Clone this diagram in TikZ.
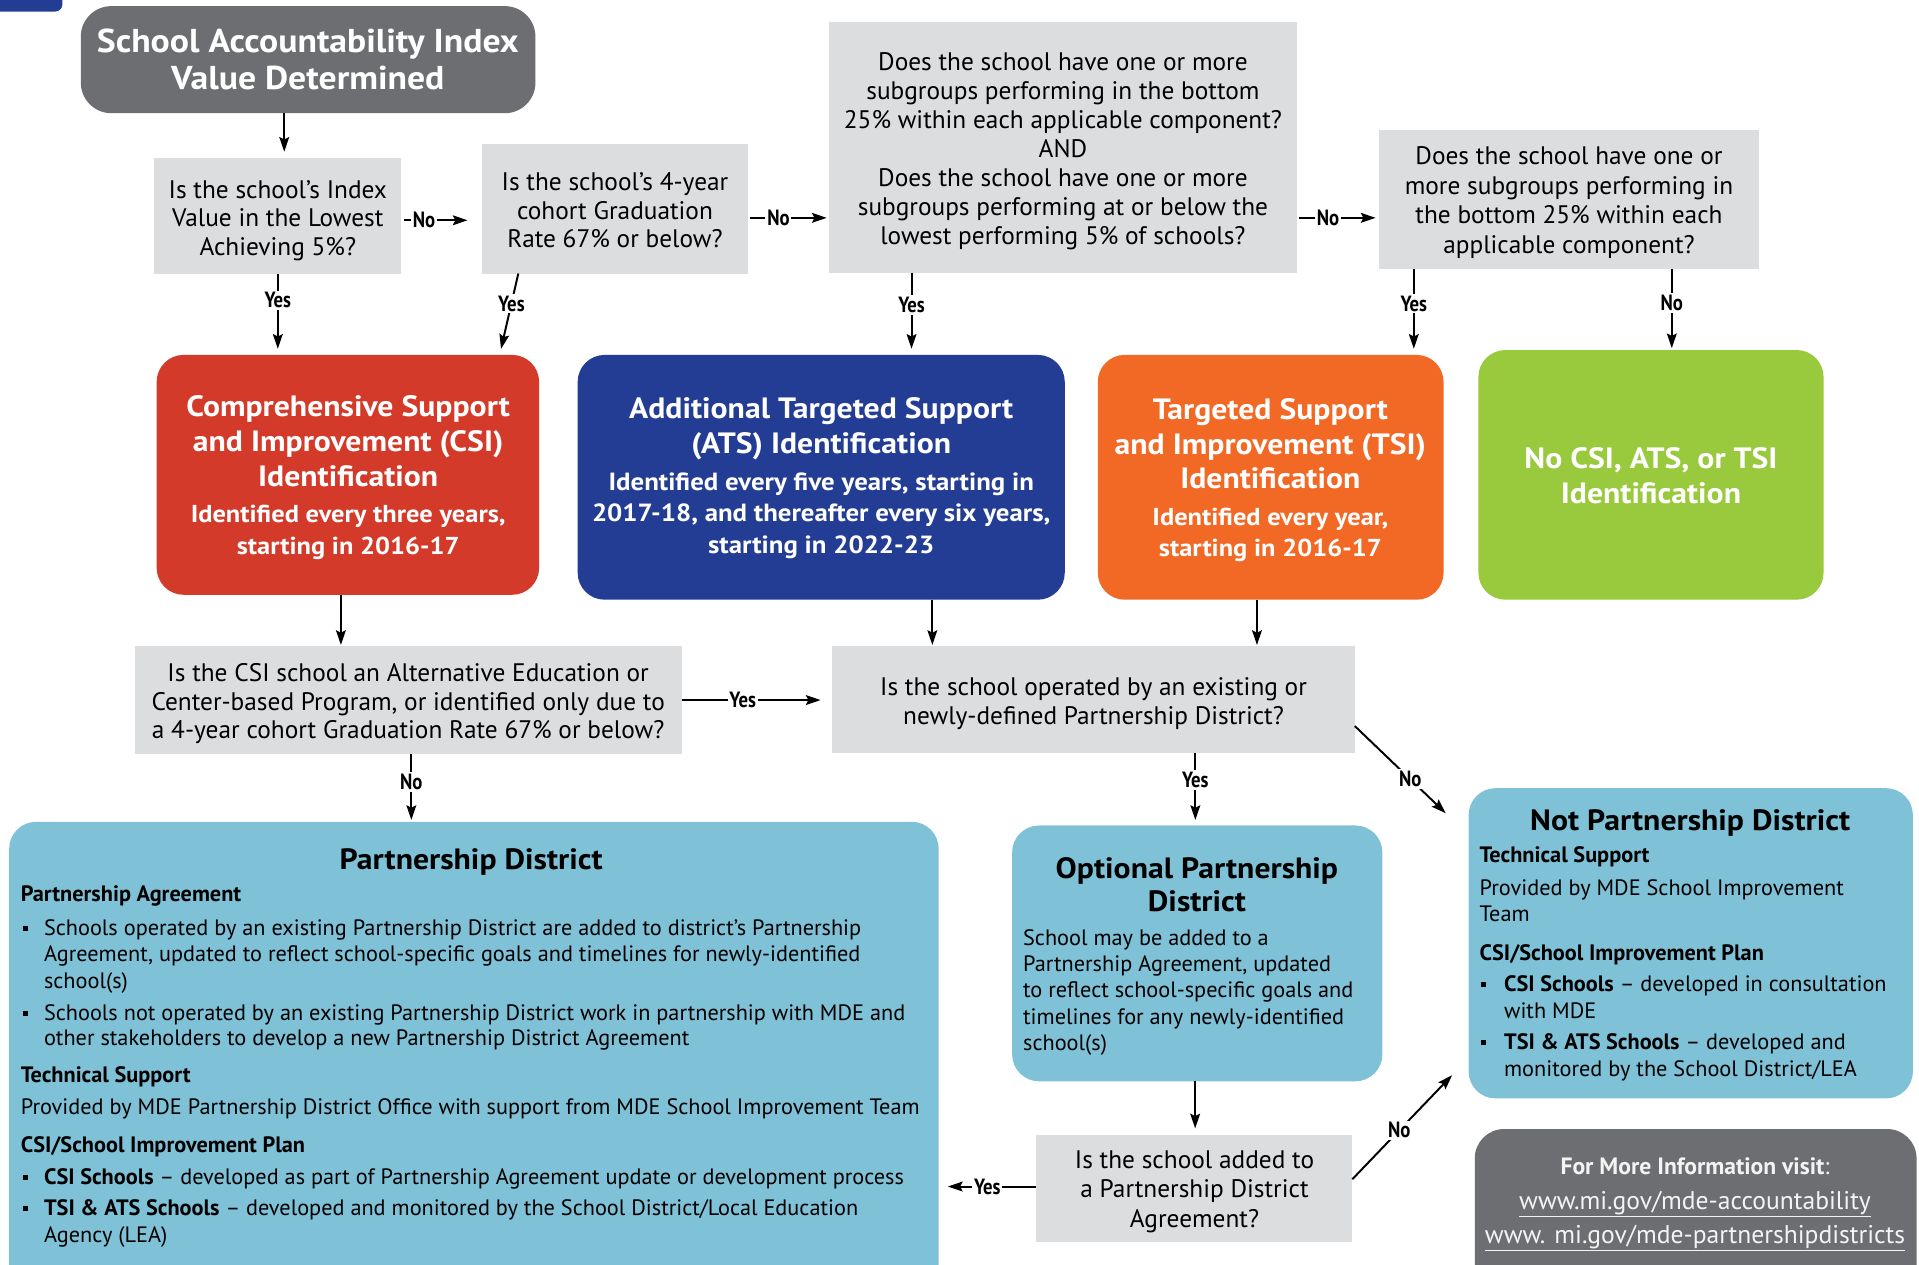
\documentclass[tikz,border=0pt]{standalone}
\usepackage{fontspec}
\setmainfont{PT Sans}
\newfontfamily\condfont{PT Sans}[FakeStretch=0.85]
\newfontfamily\widefont{PT Sans}[FakeStretch=1.08]
\usetikzlibrary{arrows.meta}
\definecolor{qgrey}{HTML}{DCDDDE}
\definecolor{dgrey}{HTML}{6D6E71}
\definecolor{redC}{HTML}{D33A29}
\definecolor{blueC}{HTML}{243D94}
\definecolor{orangeC}{HTML}{F26825}
\definecolor{greenC}{HTML}{99C93C}
\definecolor{lblue}{HTML}{7FC1D6}
\definecolor{infotext}{HTML}{F4F4F4}
\newcommand\mkbox[6]{\node[#1, minimum width=#5pt, minimum height=#6pt] (#2) at (#3,#4) {};}
\newcommand\bul{\makebox[19pt][l]{\hspace{1.5pt}\rule[3.5pt]{4pt}{4pt}}}
\newcommand\bulN{\makebox[20pt][l]{\hspace{1.5pt}\rule[3.5pt]{4pt}{4pt}}}
\newcommand\ind{\hspace*{19pt}}
\newcommand\indN{\hspace*{20pt}}
\begin{document}
\begin{tikzpicture}[x=1pt,y=-1pt,
  box/.style={inner sep=0pt, outer sep=0pt, anchor=north west},
  qbox/.style={box, fill=qgrey},
  rbox/.style={box, rounded corners=22pt},
  arr/.style={draw=black, line width=1.6pt, -{Stealth[length=12pt,width=8pt,inset=2pt]}},
  lab/.style={fill=white, inner sep=1.5pt, font=\condfont\bfseries\fontsize{18}{18}\selectfont},
  ctext/.style={anchor=base, inner sep=0pt, outer sep=0pt},
  ltext/.style={anchor=base west, inner sep=0pt, outer sep=0pt},
  qfont/.style={font=\fontsize{20.7}{#1}\selectfont},
  tfont/.style={font=\widefont\bfseries\fontsize{24}{#1}\selectfont},
  bfont/.style={font=\fontsize{18.2}{21.5}\selectfont},
]
\useasboundingbox (0,0) rectangle (1568,1033);
\fill[white] (0,0) rectangle (1568,1033);
\fill[blueC, rounded corners=6pt] (-20,-20) rectangle (51,9.5);

% ---------- boxes ----------
\mkbox{rbox, fill=dgrey, rounded corners=25pt}{top}{66}{5}{371.5}{87.5}
\mkbox{qbox}{q1}{126}{129}{202}{94.5}
\mkbox{qbox}{q2}{394}{117.5}{217}{106}
\mkbox{qbox}{q3}{677}{18}{383}{205}
\mkbox{qbox}{q4}{1127}{106}{310}{114}
\mkbox{rbox, fill=redC}{csi}{128}{290}{312.5}{196}
\mkbox{rbox, fill=blueC}{ats}{472}{290}{398}{200}
\mkbox{rbox, fill=orangeC}{tsi}{897}{290}{282.5}{200}
\mkbox{rbox, fill=greenC}{nid}{1208}{286}{282}{204}
\mkbox{qbox}{q5}{110}{528}{447}{88}
\mkbox{qbox}{q6}{680}{528}{427}{87.5}
\mkbox{rbox, fill=lblue}{pd}{7.5}{671.5}{759.5}{390}
\mkbox{rbox, fill=lblue}{opd}{827}{674.5}{302.5}{209}
\mkbox{qbox}{q7}{846.5}{927.5}{258.5}{87}
\mkbox{rbox, fill=lblue}{npd}{1200}{644}{363}{253.5}
\mkbox{rbox, fill=dgrey, rounded corners=24pt}{info}{1205}{922.5}{361}{140}

% ---------- texts ----------
\node[ctext, text=white, font=\widefont\bfseries\fontsize{27}{31}\selectfont] (topt) at (251.5,42.5)
  {\begin{tabular}[t]{@{}c@{}}School Accountability Index\\Value Determined\end{tabular}};
\node[ctext, qfont=23.2] (q1t) at (227,162)
  {\begin{tabular}[t]{@{}c@{}}Is the school’s Index\\Value in the Lowest\\Achieving 5\%?\end{tabular}};
\node[ctext, qfont=23.5] (q2t) at (502.5,155.5)
  {\begin{tabular}[t]{@{}c@{}}Is the school’s 4-year\\cohort Graduation\\Rate 67\% or below?\end{tabular}};
\node[ctext, qfont=23.8] (q3t) at (868.5,57.3)
  {\begin{tabular}[t]{@{}c@{}}Does the school have one or more\\subgroups performing in the bottom\\25\% within each applicable component?\\AND\\Does the school have one or more\\subgroups performing at or below the\\lowest performing 5\% of schools?\end{tabular}};
\node[ctext, qfont=24] (q4t) at (1282,134.8)
  {\begin{tabular}[t]{@{}c@{}}Does the school have one or\\more subgroups performing in\\the bottom 25\% within each\\applicable component?\end{tabular}};
\node[ctext, text=white, tfont=28.8] (csit) at (284.5,340)
  {\begin{tabular}[t]{@{}c@{}}Comprehensive Support\\and Improvement (CSI)\\Identification\\[0.6pt]
  \fontsize{20}{24}\selectfont Identified every three years,\\[-3.1pt]\fontsize{20}{24}\selectfont starting in 2016-17\end{tabular}};
\node[ctext, text=white, tfont=28.5] (atst) at (671,342)
  {\begin{tabular}[t]{@{}c@{}}Additional Targeted Support\\(ATS) Identification\\[1.5pt]
  \fontsize{20.3}{24}\selectfont Identified every five years, starting in\\[-2.75pt]\fontsize{20.3}{24}\selectfont 2017-18, and thereafter every six years,\\[-2.75pt]\fontsize{20.3}{24}\selectfont starting in 2022-23\end{tabular}};
\node[ctext, text=white, tfont=28] (tsit) at (1038,343)
  {\begin{tabular}[t]{@{}c@{}}Targeted Support\\and Improvement (TSI)\\Identification\\[2pt]
  \fontsize{20}{24}\selectfont Identified every year,\\[-2pt]\fontsize{20}{24}\selectfont starting in 2016-17\end{tabular}};
\node[ctext, text=white, tfont=28] (nidt) at (1349,383)
  {\begin{tabular}[t]{@{}c@{}}No CSI, ATS, or TSI\\Identification\end{tabular}};
\node[ctext, qfont=23.3] (q5t) at (333.5,557)
  {\begin{tabular}[t]{@{}c@{}}Is the CSI school an Alternative Education or\\Center-based Program, or identified only due to\\a 4-year cohort Graduation Rate 67\% or below?\end{tabular}};
\node[ctext, qfont=23.5] (q6t) at (893.5,568.5)
  {\begin{tabular}[t]{@{}c@{}}Is the school operated by an existing or\\newly-defined Partnership District?\end{tabular}};
\node[ctext, qfont=23.8] (q7t) at (976,955)
  {\begin{tabular}[t]{@{}c@{}}Is the school added to\\a Partnership District\\Agreement?\end{tabular}};

% Partnership District
\node[ctext, tfont=24] (pdt) at (385,710.5) {Partnership District};
\node[ltext, bfont] (pdb) at (17,737)
  {\begin{tabular}[t]{@{}l@{}}\textbf{Partnership Agreement}\\[5.5pt]
  \bul Schools operated by an existing Partnership District are added to district’s Partnership\\[0.5pt]
  \ind Agreement, updated to reflect school-specific goals and timelines for newly-identified\\
  \ind school(s)\\[4.5pt]
  \bul Schools not operated by an existing Partnership District work in partnership with MDE and\\[-0.5pt]
  \ind other stakeholders to develop a new Partnership District Agreement\\[8.5pt]
  \textbf{Technical Support}\\[4.5pt]
  Provided by MDE Partnership District Office with support from MDE School Improvement Team\\[9.5pt]
  \textbf{CSI/School Improvement Plan}\\[4.5pt]
  \bul\textbf{CSI Schools} – developed as part of Partnership Agreement update or development process\\[4pt]
  \bul\textbf{TSI \& ATS Schools} – developed and monitored by the School District/Local Education\\[0.5pt]
  \ind Agency (LEA)\end{tabular}};

% Optional Partnership District
\node[ctext, tfont=27.2] (opdt) at (978,717.7)
  {\begin{tabular}[t]{@{}c@{}}Optional Partnership\\District\end{tabular}};
\node[ltext, bfont] (opdb) at (836,772.3)
  {\begin{tabular}[t]{@{}l@{}}School may be added to a\\Partnership Agreement, updated\\to reflect school-specific goals and\\timelines for any newly-identified\\school(s)\end{tabular}};

% Not Partnership District
\node[ctext, tfont=24] (npdt) at (1381,678.5) {Not Partnership District};
\node[ltext, bfont] (npdb) at (1209,705)
  {\begin{tabular}[t]{@{}l@{}}\textbf{Technical Support}\\[5pt]
  Provided by MDE School Improvement\\[0.3pt]
  Team\\[10.2pt]
  \textbf{CSI/School Improvement Plan}\\[3.5pt]
  \bulN\textbf{CSI Schools} – developed in consultation\\[0.8pt]
  \indN with MDE\\[3.7pt]
  \bulN\textbf{TSI \& ATS Schools} – developed and\\[0.5pt]
  \indN monitored by the School District/LEA\end{tabular}};

% info
\node[ctext, text=infotext, font=\fontsize{20.9}{28}\selectfont] (infot) at (1385,960)
  {\begin{tabular}[t]{@{}c@{}}{\fontsize{19.3}{24}\selectfont\textbf{For More Information visit}:}\\
  \underline{www.mi.gov/mde-accountability}\\
  \underline{www. mi.gov/mde-partnershipdistricts}\end{tabular}};

% ---------- connectors ----------
\coordinate (rowA) at (0,180);
\coordinate (rowB) at (0,178);
\coordinate (c0) at ([xshift=-19.5pt]top.south);
\draw[arr, shorten >=5pt] (c0) -- (c0 |- q1.north);

\draw[arr, shorten <=2pt, shorten >=12pt] (q1.east |- rowA) -- node[lab, pos=0.28] (l1) {No} (q2.west |- rowA);
\draw[arr, shorten <=1.5pt, shorten >=1.5pt] (q2.east |- rowB) -- node[lab, pos=0.38] (l2) {No} (q3.west |- rowB);
\draw[arr, shorten <=1pt, shorten >=3pt] (q3.east |- rowB) -- node[lab, pos=0.375] (l3) {No} (q4.west |- rowB);

\draw[arr, shorten >=5pt] (q1.south) -- node[lab, pos=0.33] (l4) {Yes} (q1.south |- csi.north);
\coordinate (c2a) at ([xshift=-79pt]q2.south);
\coordinate (c2b) at ([xshift=124pt]csi.north);
\draw[arr, shorten >=5pt] (c2a) -- node[lab, pos=0.37] (l5) {Yes} (c2b);
\coordinate (c3) at ([xshift=-123.7pt]q3.south);
\draw[arr, shorten >=5pt] (c3) -- node[lab, pos=0.39] (l6) {Yes} (c3 |- ats.north);
\coordinate (c4) at ([xshift=-126.8pt]q4.south);
\draw[arr, shorten >=5pt] (c4) -- node[lab, pos=0.40] (l7) {Yes} (c4 |- tsi.north);
\coordinate (c5) at ([xshift=84pt]q4.south);
\draw[arr, shorten >=1.5pt] (c5) -- node[lab, pos=0.42] (l8) {No} (c5 |- nid.north);

\coordinate (c6) at ([xshift=-5.7pt]csi.south);
\draw[arr, shorten >=1pt] (c6) -- (c6 |- q5.north);
\coordinate (c7) at ([xshift=90.8pt]ats.south);
\draw[arr, shorten >=1pt] (c7) -- (c7 |- q6.north);
\coordinate (c8) at ([xshift=-11.2pt]tsi.south);
\draw[arr, shorten >=1pt] (c8) -- (c8 |- q6.north);

\draw[arr, shorten >=9.5pt] (q5.east) -- node[lab, pos=0.405] (l9) {Yes} (q5.east -| q6.west);
\coordinate (c9) at ([xshift=2.6pt]q5.south);
\draw[arr, shorten >=1.5pt] (c9) -- node[lab, pos=0.41] (l10) {No} (c9 |- pd.north);
\coordinate (c10) at ([xshift=83.2pt]q6.south);
\draw[arr, shorten >=4.5pt] (c10) -- node[lab, pos=0.37] (l11) {Yes} (c10 |- opd.north);
\coordinate (c11a) at ([yshift=-21.5pt]q6.east);
\coordinate (c11b) at ([xshift=-18.7pt,yshift=-20.5pt]npd.north west);
\draw[arr] (c11a) -- node[lab, pos=0.61] (l12) {No} (c11b);
\coordinate (c12) at ([xshift=-1.7pt]opd.south);
\draw[arr, shorten >=5.5pt] (c12) -- (c12 |- q7.north);
\coordinate (c13) at ([yshift=1.5pt]q7.west);
\draw[arr, shorten >=7.5pt] (c13) -- node[lab, pos=0.5] (l13) {Yes} (c13 -| pd.east);
\coordinate (c14a) at ([yshift=7.5pt]q7.east);
\coordinate (c14b) at ([xshift=-13.5pt,yshift=19pt]npd.south west);
\draw[arr] (c14a) -- node[lab, pos=0.47] (l14) {No} (c14b);
\end{tikzpicture}
\end{document}
